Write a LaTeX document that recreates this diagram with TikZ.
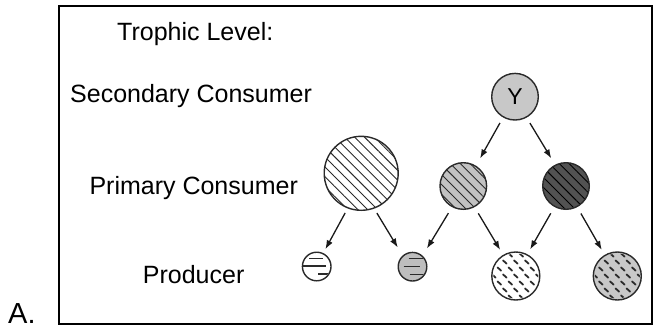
\documentclass[tikz,border=0pt]{standalone}
\usepackage{fontspec}
\setmainfont{Liberation Sans}
\usetikzlibrary{arrows.meta,patterns.meta}
\definecolor{ink}{HTML}{2A2A2A}
\definecolor{lightfill}{HTML}{C8C8C8}
\definecolor{midfill}{HTML}{C2C2C2}
\definecolor{darkfill}{HTML}{525252}
\definecolor{prodfill}{HTML}{BEBEBE}
\begin{document}
\begin{tikzpicture}[x=1pt,y=-1pt,
  lbl/.style={anchor=base west,inner sep=0,font=\fontsize{25}{30}\selectfont},
  org/.style={circle,draw=ink,line width=1.4pt,inner sep=0,outer sep=0},
  link/.style={-{Latex[length=9pt,width=6.5pt]},line width=1.3pt,draw=black!90},
  hatch/.style={pattern={Lines[angle=-45,distance=7pt,line width=0.9pt]},pattern color=ink},
  seg/.style={line width=1.3pt,draw=ink},
  speck/.style={line width=1.8pt,draw=ink,line cap=round}
]
\useasboundingbox (0,0) rectangle (655,327);
\node[draw=black,line width=2pt,minimum width=593pt,minimum height=318pt,anchor=north west,inner sep=0,outer sep=0] (frame) at (59,5.7) {};
\node[anchor=base west,inner sep=0,font=\fontsize{29}{34}\selectfont] (lA) at (8,323.5) {A.};

\node[lbl] (tl) at (117,40.7) {Trophic Level:};
\node[lbl] (sc) at (70,102) {Secondary Consumer};
\node[lbl] (pc) at (89.3,194) {Primary Consumer};
\node[lbl] (pr) at (142.7,283.3) {Producer};

% organisms
\node[org,fill=lightfill,minimum size=46.6pt,font=\fontsize{23}{27}\selectfont] (Y) at (515,96.7) {Y};
\node[org,fill=white,hatch,minimum size=74pt] (big) at (361.2,173.3) {};
\node[org,preaction={fill=midfill},hatch,minimum size=46.6pt] (mid) at (463.3,186) {};
\node[org,preaction={fill=darkfill},hatch,pattern color=black,minimum size=46.6pt] (dark) at (566,186) {};
\node[org,fill=white,minimum size=28.6pt] (p1) at (316.7,266.5) {};
\node[org,fill=prodfill,minimum size=28.6pt] (p2) at (412.5,266.7) {};
\node[org,fill=white,minimum size=48pt] (p3) at (515.8,276) {};
\node[org,fill=lightfill,minimum size=48pt] (p4) at (617.3,276) {};

% producer textures
\begin{scope}[shift={(p1.center)}]
  \clip (0,0) circle[radius=13.6];
  \draw[seg] (-7.3,-8) -- (6.7,-8);
  \draw[seg] (-14,-0.5) -- (9.3,-0.5);
  \draw[seg] (1.7,7.5) -- (14,7.5);
\end{scope}
\begin{scope}[shift={(p2.center)}]
  \clip (0,0) circle[radius=13.6];
  \draw[seg] (-4,-8) -- (14,-8);
  \draw[seg] (-9,-0.5) -- (7,-0.5);
  \draw[seg] (-3,7.5) -- (14,7.5);
\end{scope}
\foreach \p in {p3,p4}{
  \begin{scope}[shift={(\p.center)}]
    \clip (0,0) circle[radius=22.5];
    \foreach \r in {-3,...,3}{
      \foreach \c in {-3,...,3}{
        \draw[speck] ({\c*11+mod(abs(\r),2)*5.5-1.8},{\r*7-1.6}) -- ++(3.6,3.2);
      }
    }
  \end{scope}
}

% feeding links
\draw[link,shorten <=7pt,shorten >=9pt] (Y.240.6) -- (mid.58.9);
\draw[link,shorten <=7pt,shorten >=8pt] (Y.299.4) -- (dark.117.3);
\draw[link,shorten <=5.8pt,shorten >=5pt] (big.249.2) -- (p1.64.6);
\draw[link,shorten <=5.8pt,shorten >=10pt] (big.290.9) -- (p2.132.2);
\draw[link,shorten <=7.7pt,shorten >=9pt] (mid.242.5) -- (p2.47.8);
\draw[link,shorten <=7.9pt,shorten >=6.4pt] (mid.298.1) -- (p3.121.3);
\draw[link,shorten <=8pt,shorten >=6.2pt] (dark.241.4) -- (p3.62);
\draw[link,shorten <=8pt,shorten >=6.3pt] (dark.298.6) -- (p4.121);
\end{tikzpicture}
\end{document}
